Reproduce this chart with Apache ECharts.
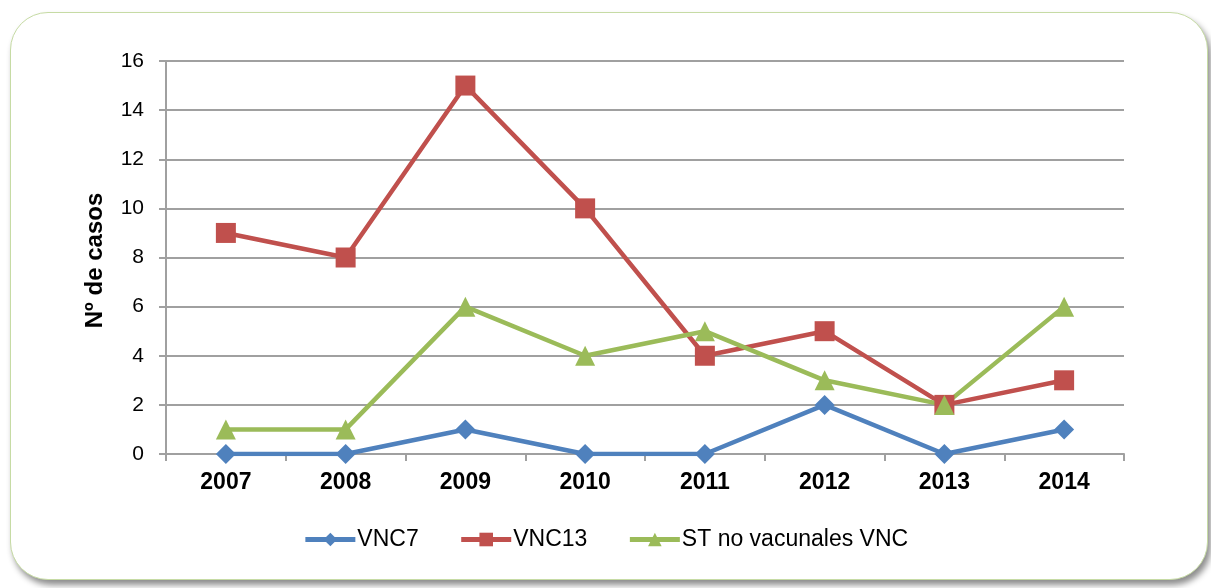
<!DOCTYPE html>
<html>
<head>
<meta charset="utf-8">
<script src="https://cdn.jsdelivr.net/npm/echarts@6/dist/echarts.min.js"></script>
<style>
body { margin: 0; background: #fff; }
#panel { position: absolute; left: 10px; top: 12px; width: 1196px; height: 566px;
  border: 1.5px solid #c6dba4; border-radius: 38px; background: #fff;
  box-shadow: 3px 5px 6px rgba(0,0,0,0.45); }
#chart { position: absolute; left: 0; top: 0; width: 1211px; height: 588px; }
</style>
</head>
<body>
<div id="panel"></div>
<div id="chart"></div>
<script>
// years on the x axis
var years = ['2007', '2008', '2009', '2010', '2011', '2012', '2013', '2014'];
var vnc7 = [0, 0, 1, 0, 0, 2, 0, 1];
var vnc13 = [9, 8, 15, 10, 4, 5, 2, 3];
var stNoVac = [1, 1, 6, 4, 5, 3, 2, 6];

var chart = echarts.init(document.getElementById('chart'), null, {renderer: 'canvas'});

var fontFam = 'Liberation Sans, Arial, sans-serif';

function lineSeries(name, data, color, symbol, size) {
    return {
        name: name,
        type: 'line',
        data: data,
        symbol: symbol,
        symbolSize: size,
        showAllSymbol: true,
        lineStyle: {color: color, width: 4.5},
        itemStyle: {color: color},
        emphasis: {disabled: true},
        animation: false
    };
}

var option = {
    backgroundColor: 'transparent',
    textStyle: {fontFamily: fontFam},
    grid: {left: 166, right: 87, top: 61, bottom: 134},
    legend: {
        top: 523,
        left: 'center',
        itemWidth: 50,
        itemHeight: 17,
        itemGap: 40,
        itemStyle: {borderWidth: 0},
        lineStyle: {width: 5},
        textStyle: {fontSize: 23, color: '#000', fontFamily: fontFam, padding: [0, 0, 0, -3]},
        data: ['VNC7', 'VNC13', 'ST no vacunales VNC']
    },
    xAxis: {
        type: 'category',
        data: years,
        boundaryGap: true,
        axisLine: {lineStyle: {color: '#a0a0a0', width: 2}},
        axisTick: {show: true, length: 7, lineStyle: {color: '#a0a0a0', width: 2}},
        axisLabel: {fontSize: 23, fontWeight: 'bold', color: '#000', margin: 17}
    },
    yAxis: {
        type: 'value',
        min: 0,
        max: 16,
        interval: 2,
        name: 'Nº de casos',
        nameLocation: 'middle',
        nameGap: 59,
        nameTextStyle: {fontSize: 24, fontWeight: 'bold', color: '#000', padding: [0, 0, 0, -6]},
        axisLine: {show: true, lineStyle: {color: '#a0a0a0', width: 2}},
        axisTick: {show: true, length: 7, lineStyle: {color: '#a0a0a0', width: 2}},
        axisLabel: {fontSize: 21, color: '#000', margin: 22},
        splitLine: {lineStyle: {color: '#a0a0a0', width: 2}}
    },
    series: [
        lineSeries('VNC7', vnc7, '#4f81bd', 'diamond', 20),
        lineSeries('VNC13', vnc13, '#c0504d', 'rect', 20),
        lineSeries('ST no vacunales VNC', stNoVac, '#9bbb59', 'triangle', 20)
    ]
};

chart.setOption(option);
</script>
</body>
</html>
